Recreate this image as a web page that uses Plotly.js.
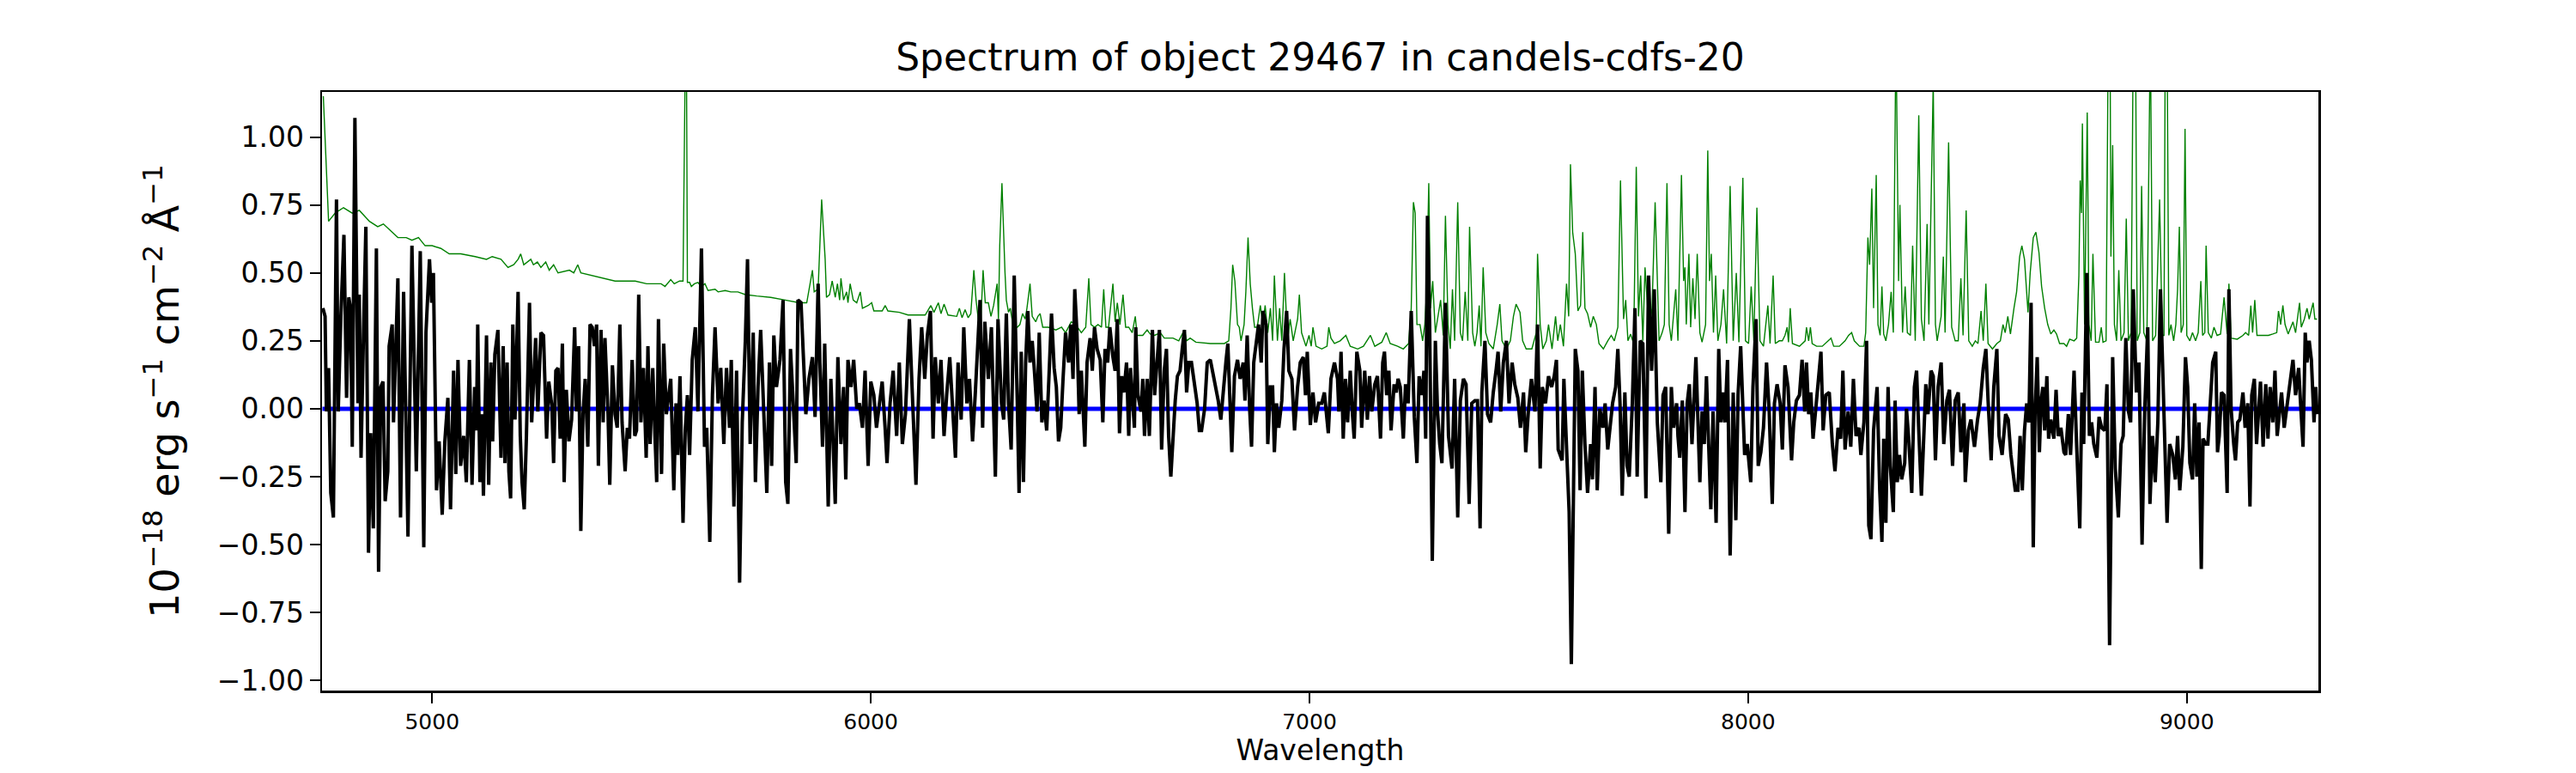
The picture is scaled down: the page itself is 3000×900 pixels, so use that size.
<!DOCTYPE html>
<html>
<head>
<meta charset="utf-8">
<script src="https://cdn.plot.ly/plotly-3.0.1.min.js"></script>
<style>
  html, body { margin: 0; padding: 0; background: #fff; }
  #spectrum { width: 3000px; height: 900px; }
</style>
</head>
<body>
<div id="spectrum"></div>
<script>
// Spectrum data (wavelength in Angstrom, flux in 1e-18 erg/s/cm2/A)
const fluxWave = [
  4751,4756,4759,4764,4769,4775,4782,4786,4792,4799,
  4805,4810,4814,4818,4824,4831,4834,4838,4844,4849,
  4855,4860,4866,4873,4878,4883,4888,4893,4899,4902,
  4909,4912,4922,4928,4935,4945,4954,4964,4973,4981,
  4986,4994,4999,5003,5010,5016,5023,5029,5036,5042,
  5049,5054,5059,5065,
  5072,5078,5085,5091,5097,5101,5104,5109,5114,5117,
  5124,5129,5134,5138,5143,5150,5157,5162,5166,5171,
  5175,5179,5184,5189,5196,5201,5205,5210,5215,5222,
  5227,5231,5236,5241,5248,5254,5261,5266,5273,5277,
  5282,5287,5292,5297,5301,5306,5312,5318,5325,5329,
  5334,5339,5344,5349,5355,5360,5365,5370,5375,5379,
  5385,5390,5394,5401,5405,5411,5417,5422,5428,5433,
  5440,5445,5450,5456,5462,5466,5471,5476,5482,5488,
  5492,5497,5503,5508,5512,5516,
  5523,5528,5534,5544,5551,5556,5560,5565,5572,5577,
  5582,5587,5593,5600,5606,5614,5621,5626,5633,5639,
  5645,5652,5658,5665,5671,5678,5682,5688,5694,5701,
  5707,5714,5719,5725,5732,5737,5743,5749,5756,5763,
  5769,5774,5779,5785,5793,5800,5806,5811,5817,5823,
  5830,5834,5841,5847,5852,5859,5867,5873,5880,5884,
  5890,5895,5903,5909,5914,5919,5925,5932,5938,5943,
  5948,5955,5961,5968,5974,5981,5987,5994,6000,6007,
  6013,6020,6026,6033,6037,6044,6051,6059,6065,6072,
  6079,6088,6095,6103,6110,6116,6123,6129,6136,6142,
  6147,6154,6160,6167,6173,6180,6186,6193,6199,6206,
  6212,6219,6225,6232,6238,6245,6249,6255,6260,6268,
  6275,6284,6290,
  6298,6303,6309,6314,6320,6327,6334,6338,
  6343,6348,6353,6358,6363,6368,6373,6379,6384,6390,
  6395,6401,6406,6412,6418,6423,6428,6433,6438,6444,
  6451,6456,6461,6465,6470,6475,6480,6488,6493,6500,
  6505,6510,6516,6523,6529,6534,6540,6545,6552,6557,
  6562,6567,6572,6577,6583,6588,6592,6601,6604,6609,
  6616,6620,6624,6630,6635,6642,6647,6653,6658,6663,
  6669,6674,6679,6684,6689,6694,6699,6705,6710,6715,
  6720,6725,6731,6738,6744,6749,6754,6761,6767,6774,
  6779,6785,6792,6798,6804,6810,6814,6818,6823,6829,
  6836,6842,6849,6853,6858,6864,6868,6873,6879,6884,
  6890,6894,6901,6905,6911,6916,6920,6925,6930,6937,
  6942,6948,6953,6960,6966,6973,6979,6986,6991,6995,
  7002,7008,7014,7021,7028,7034,7043,7049,7057,7064,
  7067,7072,7077,7082,7087,7093,7098,7102,7108,7115,
  7119,7126,7132,7137,7142,7149,7155,7162,7167,7171,
  7176,7181,7186,7193,7198,7202,7207,7214,7219,7225,
  7232,7239,7245,7250,7256,7261,7265,7269,7274,7280,
  7287,7292,7297,7302,7310,7317,7325,7331,7338,7344,
  7351,7357,7364,7370,7377,7383,7389,7393,7400,7406,
  7413,7419,7426,7430,7436,7442,7449,7455,7462,7468,
  7475,7481,7488,7493,7499,7506,7514,7520,7526,7531,
  7538,7545,7552,7558,7563,7567,7576,7580,7587,7592,
  7597,7602,7606,7612,7617,7622,7628,7634,7641,7645,
  7651,7656,7662,7669,7674,7680,7687,7691,7698,7703,
  7708,7713,7719,7724,7729,7736,7742,7747,7754,7760,
  7767,7773,7780,7786,7793,7801,7806,7812,7819,7825,
  7830,7837,
  7840,7844,7850,7856,7861,7866,7872,7881,7890,7895,
  7900,7905,7910,7915,7920,7927,7933,7938,7942,7947,
  7953,7959,7966,7972,7977,7983,7992,7998,8006,8011,
  8018,8023,8029,8035,8042,8048,8055,8060,8066,8073,
  8078,8084,8091,8099,8104,8110,8117,8123,8129,8133,
  8138,8143,8148,8155,8159,8166,8171,8177,8185,8192,
  8198,8205,8211,8216,8221,8228,8234,8240,8246,8253,
  8257,8264,8270,8275,8280,8286,8294,8300,8305,8309,
  8314,8319,8324,8331,8335,8340,8345,8350,8357,8361,
  8366,8373,8379,8384,8389,8395,8401,8405,8410,8417,
  8422,8427,8433,8440,8446,8453,8459,8466,8472,8479,
  8485,8492,8495,8502,8508,8516,8523,8529,8536,8542,
  8547,8554,8560,8567,8572,8579,8587,8593,8599,8609,
  8615,8620,8625,8630,8635,8640,8645,8650,8654,8659,
  8664,8668,8672,8676,8681,8685,8690,8697,8702,8707,
  8713,8720,8724,8730,8735,8743,8749,8756,8761,8765,
  8772,8778,8783,8788,8795,8800,8806,8813,8818,8824,
  8831,8837,8844,8850,8855,8861,8867,8872,8878,8885,
  8891,8898,8904,8911,8916,8922,8928,8934,8940,8945,
  8950,8955,8961,8968,8974,8979,8984,8991,8997,9002,
  9007,9013,9018,9023,9028,9033,9037,9043,9048,9053,
  9059,9066,9070,9074,9079,9085,9092,9096,9101,9107,
  9111,9116,9121,9128,9133,9139,9144,9148,9154,9159,
  9163,9168,9174,9180,9185,9190,9196,9201,9206,9211,
  9216,9222,9229,9235,9242,9248,9255,9259,9265,9270,
  9274,9279,9284,9290,9294,9297
];

const flux = [
  0.37,0.34,-0.01,0.15,-0.31,-0.40,0.77,-0.01,0.34,0.64,
  0.04,0.41,0.37,-0.14,1.07,0.02,0.42,-0.18,0.31,0.67,
  -0.53,-0.09,-0.44,0.59,-0.60,0.08,0.10,-0.34,-0.23,0.23,
  0.31,-0.05,0.48,-0.40,0.43,-0.47,0.60,-0.23,0.58,-0.51,
  0.28,0.55,0.39,0.50,-0.30,-0.12,-0.39,-0.12,0.04,-0.37,
  0.14,-0.24,0.18,-0.21,
  -0.10,-0.27,0.18,-0.28,0.08,-0.08,0.31,-0.27,-0.02,-0.32,
  0.27,-0.28,0.17,-0.12,0.20,0.29,-0.18,0.23,-0.20,0.17,
  -0.23,-0.33,0.31,-0.04,0.43,-0.10,-0.27,-0.37,-0.10,0.39,
  -0.05,0.08,0.26,-0.01,0.28,0.27,-0.11,0.10,0.01,-0.20,
  0.14,0.15,-0.11,0.24,-0.27,0.07,-0.12,-0.04,0.30,-0.01,
  0.23,-0.45,-0.02,0.11,-0.14,0.31,0.30,0.23,0.31,-0.21,
  0.29,-0.05,0.26,-0.02,-0.28,0.16,-0.02,-0.07,0.31,-0.05,
  -0.23,-0.07,-0.11,0.18,-0.10,-0.08,0.42,-0.05,0.15,-0.18,
  0.23,-0.13,0.15,-0.10,-0.27,0.33,
  -0.24,0.24,-0.02,0.11,-0.30,0.02,-0.17,0.12,-0.42,-0.08,
  0.05,-0.17,0.18,0.30,-0.01,0.59,-0.14,-0.07,-0.49,0.05,
  0.30,0.02,0.15,-0.13,0.15,-0.07,0.18,-0.36,0.14,-0.64,
  -0.05,0.25,0.55,-0.13,0.28,-0.27,0.08,0.29,-0.05,-0.31,
  0.17,-0.21,0.27,0.08,0.18,0.40,-0.27,-0.35,0.22,0.03,
  -0.20,0.40,0.39,0.17,-0.02,0.11,0.19,-0.03,0.46,0.17,
  -0.14,0.24,-0.36,0.11,-0.10,-0.35,0.19,-0.13,0.08,-0.26,
  0.18,0.08,0.18,0.00,0.02,-0.07,0.14,-0.21,0.10,0.05,
  -0.07,0.02,0.10,-0.08,-0.20,0.02,0.14,-0.10,0.17,-0.13,
  -0.02,0.33,0.02,-0.28,0.11,0.30,0.11,0.27,0.36,-0.11,
  0.19,0.02,0.18,-0.10,0.05,0.19,0.02,-0.18,0.17,-0.04,
  0.30,0.02,0.11,-0.12,0.05,0.31,0.40,-0.07,0.32,0.11,
  0.30,-0.25,0.33,
  0.02,-0.04,0.35,0.02,-0.15,0.49,0.02,-0.31,
  0.21,-0.27,0.17,0.36,0.17,0.25,0.14,-0.01,0.28,-0.05,
  0.03,-0.08,0.11,0.35,0.15,0.08,-0.12,-0.07,0.10,0.28,
  0.17,0.31,0.11,0.44,0.28,-0.02,0.14,-0.14,0.17,0.26,
  0.14,0.30,0.22,0.18,-0.05,0.22,0.17,0.30,0.19,0.14,
  0.33,-0.09,0.12,0.06,0.17,-0.10,0.15,-0.07,0.30,0.05,
  -0.01,0.11,-0.10,0.11,-0.10,0.29,0.05,0.17,0.29,-0.15,
  0.14,0.22,-0.10,-0.25,-0.08,0.03,0.12,0.14,0.22,0.29,
  0.06,0.17,0.17,0.08,0.02,-0.08,-0.08,0.00,0.17,0.18,
  0.14,0.10,0.03,-0.04,0.08,0.18,0.24,0.08,-0.16,0.12,
  0.18,0.11,0.17,0.03,0.27,-0.01,-0.14,0.17,0.25,0.31,
  0.17,0.36,0.31,-0.13,0.08,0.08,-0.16,0.02,-0.07,0.03,
  0.22,0.36,0.14,0.11,-0.08,0.08,0.17,0.19,0.05,0.21,
  -0.06,0.06,-0.05,0.02,0.02,0.06,-0.09,0.11,0.17,0.11,
  -0.01,0.21,-0.11,0.11,-0.05,0.14,-0.02,-0.11,0.21,0.14,
  -0.07,0.14,-0.04,0.12,-0.01,0.09,0.12,-0.11,0.17,0.21,
  0.05,0.14,-0.08,0.09,0.06,0.11,0.08,-0.11,0.09,0.02,
  0.36,-0.03,-0.20,0.12,0.05,0.14,-0.11,0.71,0.31,-0.56,
  0.25,-0.01,-0.13,-0.20,0.39,-0.10,-0.22,0.11,-0.40,0.03,
  0.11,0.09,-0.35,0.02,0.03,0.03,-0.44,0.06,0.25,-0.02,
  -0.05,0.06,0.15,0.21,-0.01,0.17,0.25,0.02,0.17,0.09,
  0.04,-0.07,0.06,-0.16,-0.01,0.11,-0.01,0.31,-0.22,0.08,
  0.02,0.12,0.08,0.12,0.18,-0.15,-0.19,0.11,-0.18,-0.38,
  -0.94,-0.29,0.22,0.14,-0.30,0.14,-0.13,-0.31,-0.13,-0.26,
  0.08,-0.30,0.00,-0.07,0.02,-0.15,-0.02,0.02,0.08,0.22,
  0.02,-0.32,0.06,-0.21,-0.25,0.02,0.37,-0.25,0.25,0.24,
  -0.33,0.49,0.14,0.44,-0.05,-0.27,0.05,0.08,-0.46,0.08,
  -0.07,0.02,
  -0.10,-0.18,0.03,-0.38,0.02,0.09,-0.13,0.19,-0.27,-0.01,
  -0.13,0.12,-0.13,-0.37,-0.01,-0.42,0.22,-0.05,0.06,-0.05,
  0.18,-0.54,0.06,-0.41,0.05,0.23,-0.17,-0.13,-0.27,0.08,
  0.33,-0.21,-0.16,-0.07,0.17,-0.01,-0.35,0.02,0.09,0.02,
  -0.15,0.16,0.08,-0.19,-0.05,0.03,0.05,0.18,-0.01,0.17,
  -0.02,0.06,-0.11,0.02,0.11,0.21,-0.08,0.05,0.06,-0.13,
  -0.23,-0.07,-0.11,0.14,-0.15,-0.01,-0.14,0.11,-0.10,-0.07,
  -0.17,-0.05,0.25,-0.43,-0.48,-0.08,0.08,-0.30,-0.49,-0.11,
  -0.42,0.08,-0.21,-0.38,0.03,-0.27,-0.17,-0.26,-0.20,0.00,
  -0.11,-0.31,0.08,0.14,-0.08,-0.32,-0.08,0.09,-0.02,0.14,
  0.12,-0.19,0.08,0.17,-0.13,0.03,0.07,-0.21,0.03,0.06,
  -0.16,0.02,-0.27,-0.08,-0.04,-0.14,-0.04,0.02,0.15,0.22,
  0.03,-0.19,0.08,0.22,-0.10,-0.17,-0.02,-0.04,-0.17,-0.30,
  -0.30,-0.10,-0.30,-0.08,0.02,-0.05,0.39,-0.51,-0.02,0.19,
  -0.16,0.03,0.08,-0.08,0.12,-0.11,-0.04,-0.11,0.07,-0.10,
  -0.07,-0.16,-0.17,-0.02,-0.17,0.14,-0.14,-0.44,0.06,-0.13,
  0.50,-0.10,-0.05,-0.13,-0.18,-0.03,-0.07,-0.08,0.09,-0.87,
  0.19,-0.22,-0.40,-0.13,-0.10,0.26,-0.01,-0.05,0.44,0.06,
  0.17,-0.50,-0.01,0.30,-0.35,-0.10,-0.27,-0.05,0.44,0.17,
  -0.07,-0.42,-0.13,-0.17,-0.26,-0.10,-0.30,-0.14,0.19,0.08,
  -0.20,-0.26,0.02,-0.25,-0.05,-0.59,-0.11,-0.13,-0.13,0.02,
  0.17,0.21,-0.16,-0.10,0.06,0.05,-0.31,0.44,0.00,-0.13,
  -0.19,-0.05,-0.04,0.06,-0.07,0.02,-0.36,0.05,0.11,-0.13,
  -0.01,0.10,-0.14,0.09,-0.11,0.08,-0.05,0.14,-0.10,-0.02,
  0.06,-0.07,0.02,0.09,0.18,0.05,0.15,0.03,-0.14,0.28,
  0.17,0.25,0.18,-0.05,0.08,-0.02
];

// Noise / sky spectrum (green)
const noiseWave = [
  4752,4764,4779,4798,4818,4834,4857,4876,4889,4909,
  4922,4941,4954,4969,4984,5000,5020,5039,5065,5098,
  5124,5137,5157,5173,5186,5196,5202,5209,5225,5231,
  5240,5248,5259,5267,5277,5287,5313,5323,5332,5339,
  5365,5391,5417,5440,5463,5489,5522,
  5531,5544,5552,5564,5572,5575,5579,5582,5587,5591,
  5598,5606,5613,5622,5629,5645,5652,5668,5681,5697,
  5714,5740,5772,5805,5837,5854,5860,5867,5871,5880,
  5888,5893,5896,5899,5906,5912,5919,5924,5929,5932,
  5938,5945,5948,5953,5960,5968,5976,5981,5994,6002,
  6007,6026,6033,6039,6065,6085,6124,6137,6144,6154,
  6160,6167,6176,6196,6202,6208,6215,6222,6228,6235,
  6240,6245,6251,6256,6261,6268,6274,6280,
  6288,6291,6294,6299,6303,6306,6309,6314,6318,6324,
  6334,6340,6346,6352,6356,6363,6368,6376,6381,6386,
  6392,6405,6422,6435,6444,6457,6467,6480,6490,6497,
  6502,6510,6518,6526,6531,6536,6542,6547,6552,6557,
  6562,6568,6575,6581,6588,6596,6603,6607,6620,6630,
  6637,6647,6660,6669,6689,6702,6715,6720,6728,6741,
  6774,6806,6816,6821,6825,6830,6836,6840,6844,6851,
  6855,6860,6865,6870,6875,6881,6888,6894,6899,6905,
  6911,6916,6920,6927,6932,6937,6943,6950,6956,6963,
  6973,6977,6982,6992,6999,7004,7008,7015,7028,7040,
  7044,7049,7057,
  7070,7083,7093,7110,7123,7139,7149,7165,7175,7184,
  7201,7214,7226,7232,7237,7241,7245,7252,7258,7263,
  7267,7272,7276,7281,7287,7292,7299,7305,7310,7316,
  7321,7326,7331,7338,7344,7349,7355,7361,7365,7372,
  7377,7382,7387,7391,7396,7402,7409,7419,7428,7434,
  7439,7449,7458,7465,7471,7480,7486,7494,7507,7517,
  7520,7526,7532,7540,7545,7553,7561,7566,7572,7579,
  7586,7591,7595,7600,7606,7612,7618,7623,7628,7634,
  7641,7647,7654,7660,7670,7680,7688,7695,7703,7709,
  7716,7721,7726,7732,7739,7745,7750,7755,7760,7765,
  7771,7776,7781,7788,7793,7797,7804,7809,7815,7820,
  7825,
  7835,7840,7848,7853,7856,7859,7865,7869,7874,7879,
  7884,7890,7895,7903,7908,7912,7916,7921,7926,7931,
  7938,7944,7951,7959,7966,7973,7979,7988,7994,8001,
  8007,8013,8020,8027,8035,8045,8050,8057,8062,8071,
  8078,8084,8089,8092,8096,8101,8117,8130,8133,8138,
  8142,8146,8156,8169,8182,8189,8195,8208,8221,8229,
  8236,8242,8254,8264,8268,8273,8277,8282,8286,8292,
  8296,8301,8305,8309,8314,8320,8326,8331,8337,8343,
  8346,8352,8358,8363,8370,8375,8381,8389,8395,8401,
  8408,8412,8422,8427,8431,8440,8445,8449,8457,8464,
  8472,8479,8485,8490,8497,8503,8511,8518,8524,8531,
  8536,8542,8547,8557,8567,8575,8581,8586,8592,8598,
  8606,
  8612,8619,8624,8630,8638,8643,8650,8656,8663,8669,
  8676,8683,8690,8697,8703,8710,8720,8726,8733,8743,
  8749,8754,8757,8760,8762,8767,8773,8777,8782,8786,
  8792,8800,8805,8809,8816,8821,8825,8827,8831,8835,
  8840,8845,8850,8857,8862,8867,8873,8878,8883,8887,
  8893,8897,8902,8909,8914,8917,8922,8929,8938,8944,
  8948,8951,8955,8959,8964,8970,8975,8979,8983,8987,
  8992,8996,9000,9007,9013,9020,9026,9032,9036,9041,
  9044,9049,9056,9062,9069,9077,9085,9092,9096,9101,
  9115,9128,9134,9141,9146,9150,9155,9160,9173,9186,
  9196,9205,9209,9214,9219,9224,9231,9237,9242,9248,
  9257,9261,9268,9274,9279,9288,9292,9297
];

const noise = [
  1.15,0.69,0.72,0.74,0.72,0.73,0.69,0.67,0.68,0.65,
  0.63,0.63,0.62,0.63,0.60,0.60,0.59,0.57,0.57,0.56,
  0.55,0.56,0.55,0.52,0.53,0.55,0.57,0.53,0.55,0.53,
  0.54,0.52,0.54,0.51,0.53,0.50,0.51,0.50,0.53,0.50,
  0.49,0.48,0.47,0.47,0.47,0.46,0.46,
  0.45,0.475,0.46,0.47,0.47,1.5,1.6,0.465,0.465,0.45,
  0.46,0.465,0.45,0.46,0.435,0.44,0.43,0.435,0.43,0.43,
  0.42,0.415,0.41,0.40,0.39,0.39,0.44,0.51,0.43,0.44,
  0.77,0.62,0.55,0.41,0.42,0.47,0.41,0.46,0.40,0.48,
  0.40,0.43,0.39,0.46,0.40,0.39,0.43,0.37,0.38,0.39,
  0.36,0.36,0.38,0.36,0.355,0.345,0.345,0.38,0.355,0.39,
  0.35,0.385,0.345,0.34,0.37,0.335,0.365,0.335,0.35,0.51,
  0.40,0.33,0.33,0.51,0.39,0.39,0.34,0.38,
  0.46,0.33,0.60,0.83,0.60,0.50,0.40,0.355,0.37,0.31,
  0.30,0.31,0.35,0.33,0.37,0.46,0.34,0.32,0.34,0.35,
  0.30,0.30,0.29,0.30,0.28,0.32,0.31,0.28,0.30,0.48,
  0.31,0.30,0.31,0.30,0.44,0.30,0.30,0.37,0.46,0.32,
  0.39,0.31,0.42,0.30,0.30,0.28,0.34,0.27,0.27,0.29,
  0.275,0.27,0.28,0.26,0.26,0.25,0.29,0.25,0.26,0.245,
  0.24,0.24,0.25,0.37,0.53,0.47,0.31,0.30,0.25,0.31,
  0.43,0.63,0.46,0.37,0.30,0.30,0.38,0.31,0.38,0.28,
  0.37,0.25,0.49,0.25,0.37,0.25,0.50,0.25,0.33,0.25,
  0.33,0.42,0.28,0.23,0.27,0.23,0.30,0.23,0.22,0.23,
  0.30,0.26,0.24,
  0.25,0.27,0.23,0.22,0.23,0.27,0.23,0.245,0.28,0.24,
  0.23,0.22,0.24,0.37,0.76,0.72,0.31,0.31,0.25,0.31,
  0.43,0.83,0.37,0.47,0.28,0.33,0.40,0.27,0.71,0.31,
  0.22,0.44,0.25,0.76,0.28,0.25,0.43,0.25,0.67,0.28,
  0.23,0.28,0.38,0.23,0.52,0.28,0.24,0.22,0.31,0.385,
  0.25,0.22,0.25,0.34,0.385,0.355,0.25,0.22,0.22,0.28,
  0.57,0.31,0.22,0.25,0.31,0.22,0.34,0.25,0.31,0.23,
  0.46,0.34,0.90,0.65,0.57,0.36,0.38,0.65,0.37,0.35,
  0.30,0.34,0.31,0.24,0.22,0.25,0.27,0.25,0.30,0.84,
  0.33,0.40,0.25,0.275,0.24,0.89,0.34,0.49,0.25,0.52,
  0.37,0.31,0.37,0.76,0.44,0.25,0.28,0.31,0.83,0.31,
  0.25,
  0.44,0.25,0.86,0.47,0.52,0.31,0.57,0.30,0.48,0.33,
  0.57,0.28,0.245,0.31,0.95,0.47,0.57,0.28,0.49,0.25,
  0.31,0.44,0.24,0.82,0.25,0.50,0.245,0.85,0.25,0.24,
  0.45,0.25,0.74,0.25,0.23,0.38,0.24,0.49,0.24,0.25,
  0.25,0.27,0.30,0.245,0.37,0.24,0.23,0.25,0.30,0.25,
  0.30,0.24,0.23,0.23,0.25,0.26,0.23,0.23,0.25,0.27,
  0.28,0.25,0.23,0.23,0.28,0.63,0.53,0.81,0.37,0.86,
  0.31,0.27,0.45,0.275,0.25,0.31,0.43,0.28,1.4,0.47,
  0.75,0.28,0.45,0.28,0.27,0.60,0.25,1.08,0.33,0.25,
  0.68,0.31,1.2,0.31,0.25,0.34,0.56,0.28,0.98,0.30,
  0.25,0.25,0.48,0.27,0.73,0.25,0.23,0.25,0.24,0.36,
  0.25,0.46,0.24,0.22,0.24,0.25,0.31,0.28,0.34,0.275,
  0.37,
  0.43,0.56,0.60,0.55,0.355,0.50,0.63,0.65,0.575,0.45,
  0.37,0.31,0.275,0.29,0.275,0.24,0.24,0.23,0.256,0.25,
  0.26,0.49,0.84,0.72,1.05,0.31,1.09,0.31,0.25,0.57,
  0.245,0.245,0.30,0.245,0.25,1.4,1.4,0.56,0.97,0.31,
  0.25,0.51,0.25,0.28,0.70,0.25,0.28,1.4,1.4,0.25,
  0.28,0.82,0.28,0.25,1.4,1.4,0.25,0.27,0.77,0.27,
  0.27,1.4,1.4,0.27,0.31,0.25,0.31,0.44,0.67,0.28,
  0.31,1.03,0.27,0.25,0.28,0.25,0.28,0.47,0.27,0.28,
  0.60,0.28,0.26,0.30,0.27,0.275,0.41,0.275,0.46,0.26,
  0.256,0.27,0.28,0.27,0.38,0.28,0.40,0.27,0.27,0.27,
  0.275,0.28,0.36,0.31,0.38,0.31,0.275,0.30,0.32,0.28,
  0.39,0.30,0.33,0.37,0.33,0.39,0.33,0.33
];

// Continuum model (blue), flat at zero
const contWave = [4750, 9300];
const cont = [0, 0];

// Axes
const waveRange = [4749, 9300];
const fluxRange = [-1.037, 1.166];
const xTicks = [5000, 6000, 7000, 8000, 9000];
const yTicks = [-1.0, -0.75, -0.5, -0.25, 0.0, 0.25, 0.5, 0.75, 1.0];

const FONT = 'DejaVu Sans, Liberation Sans, sans-serif';

if (fluxWave.length !== flux.length || noiseWave.length !== noise.length) {
    console.warn('length mismatch', fluxWave.length, flux.length, noiseWave.length, noise.length);
}

const noiseTrace = {
    x: noiseWave,
    y: noise,
    type: 'scatter',
    mode: 'lines',
    line: { color: '#008000', width: 1.4 },
    hoverinfo: 'skip'
};

const contTrace = {
    x: contWave,
    y: cont,
    type: 'scatter',
    mode: 'lines',
    line: { color: '#0000ff', width: 5 },
    hoverinfo: 'skip'
};

const fluxTrace = {
    x: fluxWave,
    y: flux,
    type: 'scatter',
    mode: 'lines',
    line: { color: '#000000', width: 4 },
    hoverinfo: 'skip'
};

const layout = {
    width: 3000,
    height: 900,
    margin: { l: 375, r: 300, t: 107, b: 96 },
    paper_bgcolor: '#ffffff',
    plot_bgcolor: '#ffffff',
    showlegend: false,
    font: { family: FONT, color: '#000000' },
    title: {
        text: 'Spectrum of object 29467 in candels-cdfs-20',
        font: { family: FONT, size: 44, color: '#000000' },
        x: 0.5,
        xref: 'paper',
        xanchor: 'center',
        y: 0.926,
        yref: 'container',
        yanchor: 'middle'
    },
    xaxis: {
        range: waveRange,
        tickmode: 'array',
        tickvals: xTicks,
        ticktext: xTicks.map(String),
        ticks: 'outside',
        ticklen: 12,
        tickwidth: 2,
        tickcolor: '#000000',
        tickfont: { family: FONT, size: 25 },
        showline: true,
        linecolor: '#000000',
        linewidth: 2.5,
        mirror: true,
        showgrid: false,
        zeroline: false,
        automargin: false,
        title: {
            text: 'Wavelength',
            font: { family: FONT, size: 33 },
            standoff: 6
        }
    },
    yaxis: {
        range: fluxRange,
        tickmode: 'array',
        tickvals: yTicks,
        ticktext: yTicks.map(v => v.toFixed(2).replace('-', '\u2212')),
        ticks: 'outside',
        ticklen: 12,
        tickwidth: 2,
        tickcolor: '#000000',
        tickfont: { family: FONT, size: 33 },
        showline: true,
        linecolor: '#000000',
        linewidth: 2.5,
        mirror: true,
        showgrid: false,
        zeroline: false,
        automargin: false,
        title: {
            text: '10<sup>\u221218</sup> erg s<sup>\u22121</sup> cm<sup>\u22122</sup> \u00c5<sup>\u22121</sup>',
            font: { family: FONT, size: 46 },
            standoff: 30
        }
    }
};

Plotly.newPlot('spectrum', [noiseTrace, contTrace, fluxTrace], layout, {
    displayModeBar: false,
    staticPlot: true
});
</script>
</body>
</html>
